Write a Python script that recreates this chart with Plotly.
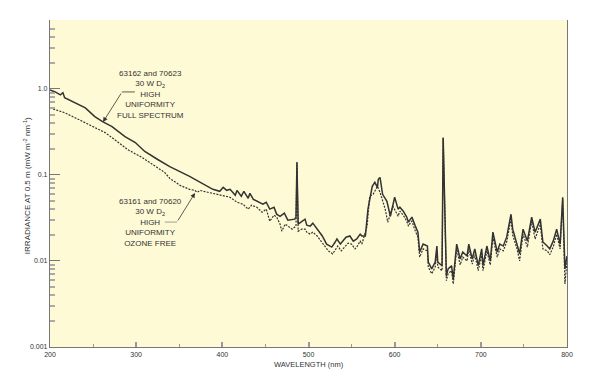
import plotly.graph_objects as go

# Full spectrum lamp (63162 and 70623) - solid
wl_full = [200, 206, 212, 215, 217, 229, 241, 252, 261, 272, 287, 299, 310, 325, 333, 339, 362,
           389, 397, 401, 405, 409, 415, 417, 422, 425, 430, 432, 436, 441, 447, 451, 455, 460,
           463, 467, 472, 476, 481, 484, 485.5, 486.6, 488, 492, 496, 498, 502, 505, 510, 516,
           521, 527, 531, 533, 537, 540, 543.5, 548, 552, 556, 560, 562, 566, 569, 574, 577,
           580, 581, 583, 586, 591, 595, 598, 600, 604, 606, 610, 614, 616, 618, 620, 624, 627,
           629, 633, 638, 639, 643, 647, 649, 650, 655, 656.3, 660, 662, 666, 668, 672, 676, 679,
           684, 686, 690, 693, 697, 701, 702.5, 707, 711, 714, 719, 722, 726, 730, 735, 737, 742,
           745, 749, 754, 759, 763, 769, 772, 777, 780, 784, 788, 792, 795, 797.6, 800]
irr_full = [0.97, 0.92, 0.85, 0.90, 0.79, 0.69, 0.60, 0.475, 0.415, 0.364, 0.279, 0.238, 0.187,
            0.151, 0.136, 0.125, 0.096, 0.068, 0.0645, 0.0717, 0.0662, 0.068, 0.058, 0.066,
            0.0564, 0.0645, 0.0535, 0.061, 0.052, 0.0494, 0.0456, 0.0481, 0.040, 0.042, 0.035,
            0.033, 0.0359, 0.0298, 0.0306, 0.0306, 0.0323, 0.14, 0.0268, 0.029, 0.0306, 0.026,
            0.0254, 0.0275, 0.0234, 0.0195, 0.0157, 0.0145, 0.0166, 0.018, 0.0157, 0.017, 0.0189,
            0.0195, 0.017, 0.018, 0.0205, 0.0195, 0.0195, 0.040, 0.0736, 0.0819, 0.0717, 0.0887,
            0.0936, 0.0595, 0.0494, 0.0331, 0.0456, 0.055, 0.040, 0.0421, 0.0379, 0.0323, 0.0282,
            0.0306, 0.0323, 0.0254, 0.0216, 0.0127, 0.0157, 0.0149, 0.0097, 0.0081, 0.0097,
            0.0149, 0.0097, 0.0088, 0.27, 0.0067, 0.0081, 0.0088, 0.0062, 0.0157, 0.01055,
            0.0127, 0.0114, 0.0157, 0.01055, 0.0138, 0.0088, 0.0138, 0.0088, 0.0149, 0.0100,
            0.0216, 0.0127, 0.0157, 0.0149, 0.0189, 0.0349, 0.0234, 0.0157, 0.0121, 0.0234,
            0.017, 0.0323, 0.0216, 0.0306, 0.0166, 0.0149, 0.0138, 0.017, 0.0234, 0.0157, 0.055,
            0.0081, 0.0114]

# Ozone free lamp (63161 and 70620) - dotted
wl_ozf = [200, 206, 217, 229, 241, 252, 264, 275, 290, 307, 322, 333, 339, 351, 362, 368, 371,
          374, 378, 394, 409, 417, 424, 430, 434, 440, 446, 451, 455, 460, 463, 467, 469, 473,
          476, 481, 485.5, 486.6, 488, 492, 496, 498, 502, 505, 510, 517, 523, 528, 534, 538,
          542, 546, 550, 554, 556, 560, 562, 568, 571, 575, 580, 583, 589, 592, 598, 604, 606,
          610, 614, 616, 618, 620, 624, 627, 629, 633, 638, 639, 643, 647, 649, 650, 655, 656.3,
          660, 662, 666, 668, 672, 676, 679, 684, 686, 690, 693, 697, 701, 702.5, 707, 711, 714,
          719, 722, 726, 730, 735, 737, 742, 745, 749, 754, 759, 763, 769, 772, 777, 780, 784,
          788, 792, 795, 797.6, 800]
irr_ozf = [0.60, 0.572, 0.528, 0.462, 0.404, 0.354, 0.310, 0.257, 0.197, 0.159, 0.1254, 0.107,
           0.0911, 0.0756, 0.068, 0.066, 0.0628, 0.066, 0.0645, 0.0595, 0.055, 0.0481, 0.0456,
           0.040, 0.0444, 0.0421, 0.0369, 0.040, 0.029, 0.034, 0.0323, 0.0268, 0.0222, 0.0268,
           0.0254, 0.0234, 0.0254, 0.14, 0.0222, 0.0234, 0.0234, 0.0216, 0.0205, 0.0216, 0.0195,
           0.0157, 0.0131, 0.0121, 0.0149, 0.0131, 0.0145, 0.0161, 0.0157, 0.0138, 0.0145, 0.017,
           0.0157, 0.0254, 0.0564, 0.0595, 0.0736, 0.0628, 0.040, 0.0282, 0.0432, 0.0331, 0.0379,
           0.034, 0.029, 0.0254, 0.0275, 0.029, 0.0222, 0.0189, 0.0111, 0.0138, 0.0131, 0.0085,
           0.0071, 0.0085, 0.0131, 0.0085, 0.0077, 0.27, 0.0059, 0.0071, 0.0077, 0.0054, 0.0138,
           0.0090, 0.0111, 0.0100, 0.0138, 0.0092, 0.0118, 0.0077, 0.0121, 0.0077, 0.0131,
           0.0090, 0.0189, 0.0111, 0.0138, 0.0131, 0.0166, 0.0306, 0.020, 0.0138, 0.0100, 0.0205,
           0.0145, 0.029, 0.018, 0.0268, 0.0138, 0.0131, 0.0118, 0.0145, 0.0205, 0.0138, 0.052,
           0.0054, 0.0100]

x_ticks = [200, 300, 400, 500, 600, 700, 800]
x_ticklabels = ["200", "300", "400", "500", "600", "700", "800"]
y_ticks = [0.001, 0.01, 0.1, 1.0]
y_ticklabels = ["0.001", "0.01", "0.1", "1.0"]
y_minor = [m * d for d in (0.001, 0.01, 0.1) for m in range(2, 10)] + [2, 3, 4, 5]

FONT = "Liberation Sans, Arial, sans-serif"
INK = "#333333"
AX = "#777777"

fig = go.Figure()
fig.add_trace(go.Scatter(x=wl_ozf, y=irr_ozf, mode="lines",
                         line=dict(color=INK, width=1.2, dash="2px,1.3px"), showlegend=False))
fig.add_trace(go.Scatter(x=wl_full, y=irr_full, mode="lines",
                         line=dict(color=INK, width=1.5), showlegend=False))

fig.update_xaxes(range=[200, 800], tickvals=x_ticks, ticktext=x_ticklabels,
                 ticks="inside", ticklen=5, tickwidth=1.5, tickcolor="#999999",
                 showline=True, linecolor=AX, linewidth=1.2, showgrid=False, zeroline=False,
                 tickfont=dict(family=FONT, size=7, color=INK),
                 minor=dict(ticks="inside", ticklen=3, tickwidth=1.2, tickcolor="#999999",
                            dtick=50, showgrid=False))
fig.update_yaxes(type="log", range=[-3, 0.8], tickvals=y_ticks, ticktext=y_ticklabels,
                 ticks="inside", ticklen=10, tickwidth=1.2, tickcolor=AX,
                 showline=True, mirror=True, linecolor=AX, linewidth=1.2, showgrid=False,
                 zeroline=False, tickfont=dict(family=FONT, size=7, color=INK),
                 minor=dict(ticks="inside", ticklen=5, tickwidth=2, tickcolor="#aaaaaa",
                            tickvals=y_minor, showgrid=False))

annos = []
# axis titles
annos.append(dict(text="WAVELENGTH (nm)", xref="paper", yref="paper", x=0.5, y=-0.055,
                  xanchor="center", yanchor="middle", showarrow=False,
                  font=dict(family=FONT, size=7.5, color=INK)))
annos.append(dict(text="IRRADIANCE AT 0.5 m (mW m<sup>-2</sup> nm<sup>-1</sup>)",
                  xref="paper", yref="paper", x=-0.0445, y=0.495, textangle=-90,
                  xanchor="center", yanchor="middle", showarrow=False,
                  font=dict(family=FONT, size=8, color=INK)))
# labels
annos.append(dict(text="63162 and 70623<br>30 W D<sub>2</sub><br>HIGH<br>UNIFORMITY<br>FULL SPECTRUM",
                  xref="paper", yref="paper", x=0.195, y=0.772, xanchor="center", yanchor="middle",
                  align="center", showarrow=False, font=dict(family=FONT, size=8, color=INK)))
annos.append(dict(text="63161 and 70620<br>30 W D<sub>2</sub><br>HIGH<br>UNIFORMITY<br>OZONE FREE",
                  xref="paper", yref="paper", x=0.195, y=0.382, xanchor="center", yanchor="middle",
                  align="center", showarrow=False, font=dict(family=FONT, size=8, color=INK)))
# leader arrows
annos.append(dict(text="", xref="paper", yref="paper", x=0.1025, y=0.688, ax=19, ay=-30,
                  showarrow=True, arrowhead=2, arrowsize=1.2, arrowwidth=0.8, arrowcolor=INK,
                  standoff=0))
annos.append(dict(text="", xref="paper", yref="paper", x=0.2805, y=0.471, ax=-18, ay=29,
                  showarrow=True, arrowhead=2, arrowsize=1.2, arrowwidth=0.8, arrowcolor=INK,
                  standoff=0))

shapes = [
    dict(type="line", xref="paper", yref="paper", x0=0.139, x1=0.164, y0=0.780, y1=0.780,
         line=dict(color=INK, width=0.8)),
    dict(type="line", xref="paper", yref="paper", x0=0.222, x1=0.246, y0=0.382, y1=0.382,
         line=dict(color="#888888", width=0.8)),
]

# page body adds an 8px offset; margins compensate so the plot area sits at x 50-567, y 20-347
fig.update_layout(width=600, height=387, margin=dict(l=42, r=41, t=12, b=48),
                  paper_bgcolor="white", plot_bgcolor="#FFFAD6",
                  annotations=annos, shapes=shapes, showlegend=False,
                  font=dict(family=FONT, color=INK))

fig.write_html("out.html")
